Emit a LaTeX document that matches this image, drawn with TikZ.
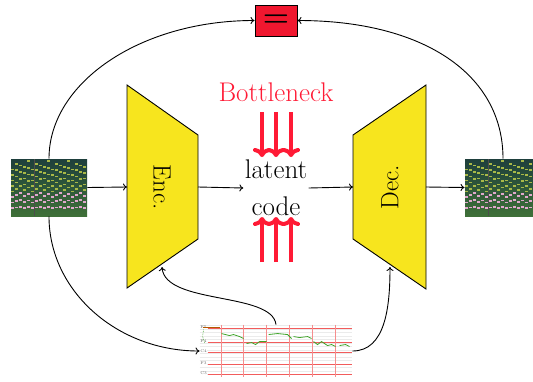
\documentclass[tikz,border=0pt]{standalone}
\usetikzlibrary{arrows.meta}
\definecolor{encyellow}{HTML}{F7E51E}
\definecolor{bnred}{HTML}{FF1A35}
\definecolor{eqred}{HTML}{F0172F}
\definecolor{spectop}{HTML}{1E3F3C}
\definecolor{specbot}{HTML}{3F7038}
\definecolor{specpink}{HTML}{E0A8CC}
\definecolor{specline}{HTML}{A8B848}
\definecolor{gridred}{HTML}{F25C5C}
\definecolor{pitchgreen}{HTML}{3FA52A}

\begin{document}
\begin{tikzpicture}[
                x=1pt, y=-1pt,
                line width=0.9pt,
                arrow/.style={-{To[length=4pt,width=7pt]}},
                bigarrow/.style={bnred, line width=4pt, -{To[length=9pt,width=18pt]}},
                coder/.style={draw, fill=encyellow},
                bigtext/.style={font=\fontsize{27}{37}\selectfont},
                codertext/.style={font=\fontsize{25}{30}\selectfont},
                spec/.style={minimum width=76pt, minimum height=57pt, inner sep=0pt,
                    top color=spectop, bottom color=specbot},
                pitchgrid/.style={minimum width=152pt, minimum height=52pt, inner sep=0pt, fill=white},
                contour/.style={pitchgreen, line width=0.8pt}
            ]
            \useasboundingbox (0,0) rectangle (533,381);
            \clip (0,0) rectangle (533,381);

            % spectrograms
            \node[spec] (specin) at (49,187.5) {};
            \node[spec] (specout) at (503,187.5) {};
            \foreach \n in {specin,specout} {
                \begin{scope}[shift={(\n.south west)}]
                    \clip (0,0) rectangle (76,-57);
                    \foreach \i in {0,...,18} {
                        \pgfmathsetmacro{\s}{5.5+mod(\i*7,5)*0.35}
                        \foreach \h in {1,...,8} {
                            \pgfmathsetmacro{\yy}{-(2+\h*\s)}
                            \ifnum\h<4 \def\cc{specpink}\else\def\cc{specline}\fi
                            \fill[\cc] (\i*4,\yy) rectangle ++(3.4,-1.6);
                        }
                    }
                    \fill[black!70] (23,0) rectangle (24.5,-57);
                \end{scope}
            }

            % pitch curve
            \node[pitchgrid] (pitch) at (276,351) {};
            \begin{scope}[shift={(pitch.north west)}]
                \foreach \y in {1,4.5,...,52}
                    \draw[black!8, line width=0.5pt] (0,\y) -- (152,\y);
                \foreach \y in {3.5,17.5,27.5,39.5,49.5}
                    \draw[gridred, line width=1pt] (8,\y) -- (152,\y);
                \foreach \x in {22,44,67,90,113,136}
                    \draw[gridred!70, line width=0.7pt] (\x,0) -- (\x,52);
                \foreach \y/\t in {3/F5,17/F4,27/C4,39/F3,49/C3}
                    \node[font=\fontsize{4}{4}\selectfont, text=black!60, inner sep=0pt, fill=white] (l\t) at (4,\y) {\t};
                \draw[orange!70!black, line width=0.8pt] (3,3) -- (20,3);
                \draw[contour, line width=0.6pt, densely dotted] (4,5) -- (3,12) -- (5,18);
                \draw[contour] (22,9) -- (26,10) -- (30,11) -- (34,10) -- (40,12) -- (44,14);
                \draw[contour] (47,19) -- (52,18) -- (56,20) -- (60,17) -- (67,17);
                \draw[contour] (69,10) -- (78,9) -- (88,10) -- (92,14);
                \draw[contour] (94,12) -- (100,13) -- (108,12) -- (112,14);
                \draw[contour] (114,17) -- (118,20) -- (122,17) -- (128,21) -- (132,20) -- (136,22);
                \draw[contour] (140,21) -- (146,20) -- (150,22);
            \end{scope}

            % encoder and decoder
            \draw[coder] (127,85) -- (198,135) -- (198,239) -- (127,288) -- cycle;
            \draw[coder] (426,85) -- (353,135) -- (353,239) -- (426,289) -- cycle;
            \node[codertext, rotate=-90] (enc) at (162,187) {Enc.};
            \node[codertext, rotate=90] (dec) at (390,187) {Dec.};
            \coordinate (encin) at (127,187);
            \coordinate (encout) at (198,187);
            \coordinate (encbot) at (162,267);
            \coordinate (decin) at (353,187);
            \coordinate (decout) at (426,187);
            \coordinate (decbot) at (390,267);

            % bottleneck
            \node[bigtext, align=center, inner sep=1pt] (latent) at (276,188) {latent\\code};
            \node[bigtext, text=bnred] (bottleneck) at (276,92) {Bottleneck};
            \foreach \x in {262,276,291} {
                \draw[bigarrow] (\x,112) -- (\x,157);
                \draw[bigarrow] (\x,262) -- (\x,217);
            }

            \node[draw, fill=eqred, minimum width=42pt, minimum height=31pt, inner sep=0pt,
                font=\fontsize{30}{30}\selectfont\bfseries] (eq) at (276,20.5) {=};

            \draw[arrow] (specin.east) -- (encin);
            \draw[arrow] (encout) -- (latent.west);
            \draw[arrow] (latent.east) -- (decin);
            \draw[arrow] (decout) -- (specout.west);
            \draw[arrow] (specin.north) .. controls +(0,-76) and +(-114,0) .. (eq.west);
            \draw[arrow] (specout.north) .. controls +(0,-85) and +(125,0) .. (eq.east);
            \draw[arrow] (specin.south) .. controls +(0,74) and +(-83,0) .. (pitch.west);
            \draw[arrow] (pitch.north) .. controls +(-4,-33) and +(3,38) .. (encbot);
            \draw[arrow] (pitch.east) .. controls +(33,0) and +(0,40) .. (decbot);
        \end{tikzpicture}
\end{document}
